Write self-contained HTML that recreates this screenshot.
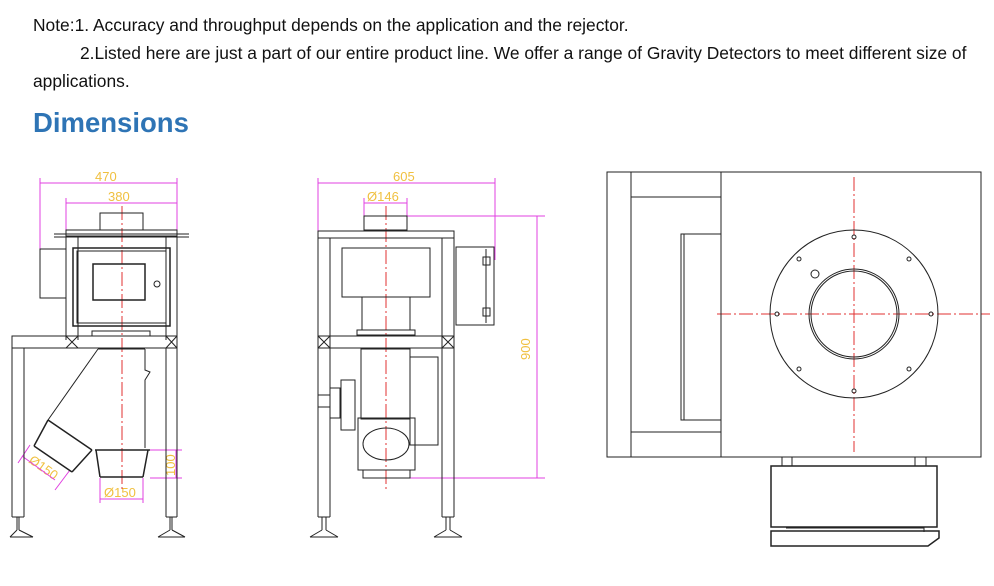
<!DOCTYPE html>
<html><head><style>
body{margin:0;width:994px;height:586px;background:#fff;overflow:hidden;font-family:"Liberation Sans",sans-serif;}
.t{position:absolute;font-size:17.4px;color:#111;white-space:nowrap}
svg{position:absolute;left:0;top:0}
</style></head><body>
<div class="t" style="left:33px;top:15px">Note:1. Accuracy and throughput depends on the application and the rejector.</div>
<div class="t" style="left:80px;top:43px">2.Listed here are just a part of our entire product line. We offer a range of Gravity Detectors to meet different size of</div>
<div class="t" style="left:33px;top:71px">applications.</div>
<div class="t" style="left:33px;top:107px;font-size:27.5px;font-weight:bold;color:#2e74b5">Dimensions</div>
<svg width="994" height="586" viewBox="0 0 994 586" fill="none" stroke="#222" stroke-width="1">
<g font-family="Liberation Sans" font-size="13" fill="#f0c040" stroke="none">
<text x="95" y="181">470</text><text x="108" y="201">380</text>
<text x="393" y="181">605</text><text x="367" y="201">Ø146</text>
<text x="104" y="497">Ø150</text>
<text transform="translate(175,476) rotate(-90)">100</text>
<text transform="translate(530,360) rotate(90) rotate(180)">900</text>
<text transform="translate(28,462) rotate(35)">Ø150</text>
</g>
<g stroke="#e040e0">
<path d="M40 183H177M40 178V250M177 178V236M66 203H177M66 198V232"/>
<path d="M318 183H495M318 178V232M495 178V260M364 203H407M364 198V216M407 198V216"/>
<path d="M407 216H545M410 478H545M537 216V478"/>
<path d="M150 450H182M150 478H182M176 450V478M100 478V503M143 478V503M100 499H143"/>
<path d="M22 456L55 480M30 445L18 463M70 470L55 490"/>
</g>
<g stroke="#e03030" stroke-dasharray="14,3,2,3">
<path d="M122 206V490M386 206V490M854 177V452M717 314H990"/>
</g>
<rect x="100" y="213" width="43" height="17"/>
<rect x="66" y="230" width="111" height="6"/><path d="M54 234H189M54 237H189"/>
<path d="M66 236V340M78 236V340M166 236V340M177 236V340"/>
<rect x="73" y="248" width="97" height="78" stroke-width="1.5"/><rect x="77" y="251" width="89" height="72"/>
<rect x="93" y="264" width="52" height="36" stroke-width="1.5"/><circle cx="157" cy="284" r="3"/>
<rect x="40" y="249" width="26" height="49"/>
<rect x="92" y="331" width="58" height="5"/>
<rect x="12" y="336" width="165" height="12"/>
<path d="M66 336L78 348M78 336L66 348M166 336L177 348M177 336L166 348"/>
<path d="M12 348V517M24 348V517M166 348V517M177 348V517M12 517H24M166 517H177"/>
<path d="M17 517V530M19 517V530M10 537L17 530M33 537L19 530M10 537H33"/>
<path d="M170 517V530M172 517V530M158 537L170 530M185 537L172 530M158 537H185"/>
<path d="M98 349L48 420M145 349V370L150 372L145 380V448M98 349H145"/>
<path d="M48 420L92 450M34 446L48 420M34 446L72 472M72 472L92 450M95 450H150M100 477L96 450M143 477L148 450M100 477H143" stroke-width="1.5"/>
<rect x="364" y="216" width="43" height="14"/>
<rect x="318" y="231" width="136" height="7"/>
<path d="M318 238V517M330 238V517M442 238V517M454 238V517M318 517H330M442 517H454"/>
<path d="M322 517V530M326 517V530M310 537L322 530M338 537L326 530M310 537H338"/>
<path d="M446 517V530M450 517V530M434 537L446 530M462 537L450 530M434 537H462"/>
<rect x="342" y="248" width="88" height="49"/>
<rect x="362" y="297" width="48" height="33"/><rect x="357" y="330" width="58" height="5"/>
<rect x="318" y="336" width="136" height="12"/>
<path d="M318 336L330 348M330 336L318 348M442 336L454 348M454 336L442 348"/>
<rect x="456" y="247" width="38" height="78"/><path d="M486 249V323"/>
<rect x="483" y="257" width="7" height="8"/><rect x="483" y="308" width="7" height="8"/>
<rect x="361" y="349" width="49" height="70"/>
<rect x="410" y="357" width="28" height="88"/>
<rect x="358" y="418" width="57" height="52"/>
<ellipse cx="386" cy="444" rx="23" ry="16"/>
<rect x="363" y="470" width="47" height="8"/>
<rect x="341" y="380" width="14" height="50"/><rect x="318" y="395" width="12" height="12"/><rect x="330" y="388" width="10" height="30"/>
<rect x="607" y="172" width="374" height="285"/>
<path d="M631 172V457M721 172V457M631 197H721M631 432H721"/>
<rect x="681" y="234" width="40" height="186"/><path d="M684 234V420"/>
<circle cx="854" cy="314" r="84"/><circle cx="854" cy="314" r="45"/><circle cx="854" cy="314" r="43"/>
<circle cx="815" cy="274" r="4"/>
<g><circle cx="854" cy="237" r="2"/><circle cx="854" cy="391" r="2"/><circle cx="777" cy="314" r="2"/><circle cx="931" cy="314" r="2"/>
<circle cx="799" cy="259" r="2"/><circle cx="909" cy="259" r="2"/><circle cx="799" cy="369" r="2"/><circle cx="909" cy="369" r="2"/></g>
<path d="M782 457V466M792 457V466M915 457V466M926 457V466"/>
<rect x="771" y="466" width="166" height="61" stroke-width="1.5"/>
<path d="M786 528H924V532"/>
<path d="M771 531H939V538L928 546H771Z" stroke-width="1.5"/>
</svg>
</body></html>
